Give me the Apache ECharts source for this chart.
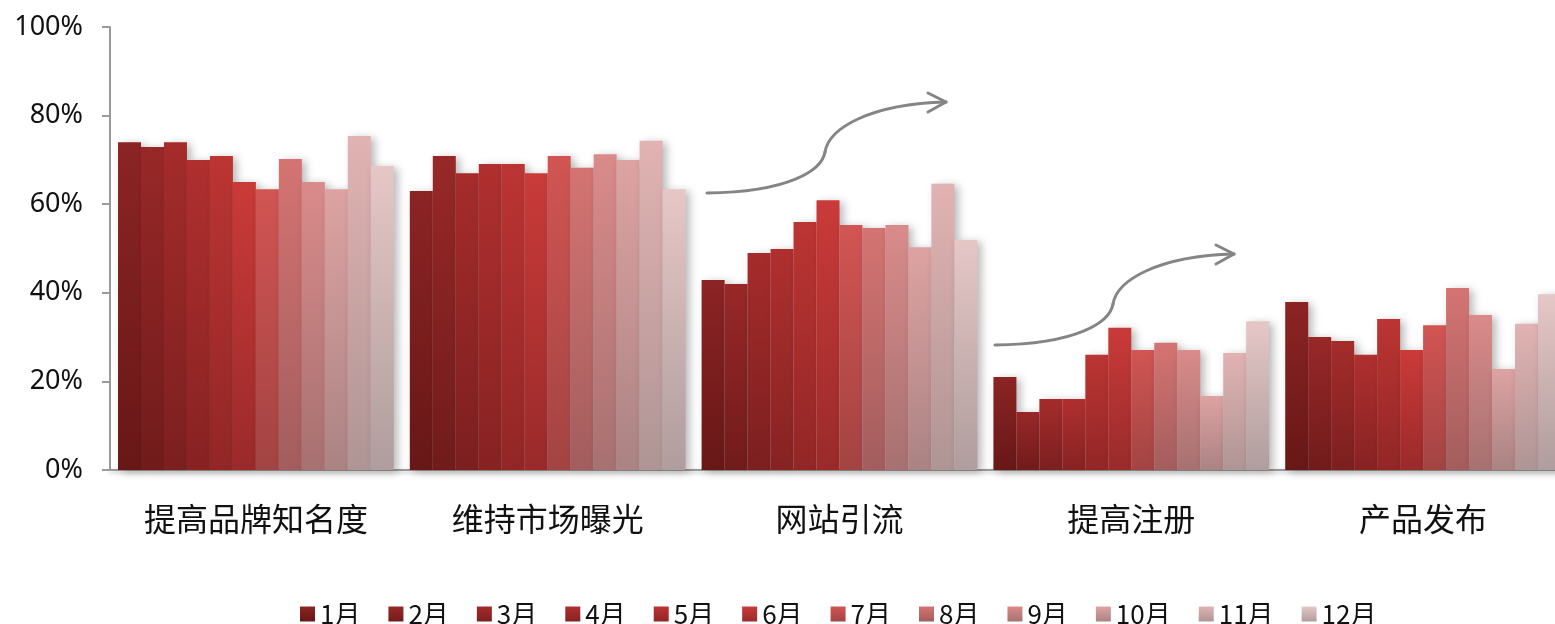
<!DOCTYPE html>
<html>
<head>
<meta charset="utf-8">
<script src="https://cdn.jsdelivr.net/npm/echarts@6/dist/echarts.min.js"></script>
<style>
html,body{margin:0;padding:0;background:#fff;}
#main{width:1555px;height:624px;}
</style>
</head>
<body>
<div id="main"></div>
<script>
const categories = ['提高品牌知名度', '维持市场曝光', '网站引流', '提高注册', '产品发布'];
const months = ['1月','2月','3月','4月','5月','6月','7月','8月','9月','10月','11月','12月'];
const m1  = [74.0, 63.0, 42.9, 21.0, 37.9];
const m2  = [72.9, 70.9, 42.0, 13.1, 30.0];
const m3  = [74.0, 67.0, 49.0, 16.0, 29.1];
const m4  = [70.0, 69.1, 49.9, 16.0, 26.0];
const m5  = [70.9, 69.1, 56.0, 26.0, 34.1];
const m6  = [65.0, 67.0, 60.9, 32.1, 27.1];
const m7  = [63.4, 70.9, 55.3, 27.1, 32.7];
const m8  = [70.2, 68.2, 54.6, 28.7, 41.1];
const m9  = [65.0, 71.3, 55.3, 27.1, 35.0];
const m10 = [63.4, 70.0, 50.3, 16.7, 22.8];
const m11 = [75.4, 74.3, 64.6, 26.4, 33.0];
const m12 = [68.6, 63.4, 51.9, 33.6, 39.7];
const yTicks = [0, 20, 40, 60, 80, 100];

const seriesValues = [m1,m2,m3,m4,m5,m6,m7,m8,m9,m10,m11,m12];
const topColors = ['#8c2424','#982828','#a52c2b','#b02f2f','#bb3533','#c93b39','#d15553','#d47472','#d98b8a','#dda3a2','#e1b3b2','#e5c7c6'];
const botColors = ['#681717','#711b1b','#7c1f1f','#872222','#922626','#9a2a2a','#a24443','#a35d5d','#a77171','#ab8383','#af9595','#b09d9d'];

const series = months.map((m, i) => ({
  name: m,
  type: 'bar',
  data: seriesValues[i],
  barGap: '0%',
  barCategoryGap: '5.5%',
  itemStyle: {
    color: {
      type: 'linear', x: 0, y: 0, x2: 0, y2: 1,
      colorStops: [
        {offset: 0, color: topColors[i]},
        {offset: 1, color: botColors[i]}
      ]
    },
    shadowBlur: 8,
    shadowOffsetX: 4,
    shadowOffsetY: 2,
    shadowColor: 'rgba(0,0,0,0.28)'
  },
  emphasis: {disabled: true}
}));

const chart = echarts.init(document.getElementById('main'), null, {renderer: 'canvas'});
const arrowStyle = {stroke: '#858585', lineWidth: 3, fill: null, lineCap: 'round', lineJoin: 'round'};
function bez(x1, y1, cpx1, cpy1, cpx2, cpy2, x2, y2) {
  return {type: 'bezierCurve', shape: {x1, y1, cpx1, cpy1, cpx2, cpy2, x2, y2}, style: arrowStyle, z: 100};
}
chart.setOption({
  animation: false,
  backgroundColor: '#ffffff',
  grid: {left: 110, top: 27, right: -14, bottom: 154, containLabel: false, outerBoundsMode: 'none'},
  legend: {
    data: months,
    left: 295,
    top: 596,
    itemWidth: 15,
    itemHeight: 15,
    itemGap: 28,
    icon: 'rect',
    textStyle: {fontSize: 26, color: '#111', fontFamily: '"Noto Sans CJK SC", "Noto Sans", sans-serif'}
  },
  xAxis: {
    type: 'category',
    data: categories,
    axisLine: {show: true, lineStyle: {color: '#9a9a9a', width: 2, shadowBlur: 4, shadowColor: 'rgba(0,0,0,0.25)', shadowOffsetY: 2}},
    axisTick: {show: false},
    axisLabel: {interval: 0, hideOverlap: false, fontSize: 32, color: '#111', margin: 33, fontFamily: '"Noto Sans CJK SC", sans-serif'}
  },
  yAxis: {
    type: 'value',
    min: yTicks[0],
    max: yTicks[yTicks.length - 1],
    interval: 20,
    axisLine: {show: true, lineStyle: {color: '#9a9a9a', width: 2}},
    axisTick: {show: true, length: 8, lineStyle: {color: '#9a9a9a', width: 2}},
    splitLine: {show: false},
    axisLabel: {formatter: '{value}%', fontSize: 27, color: '#111', margin: 27, fontFamily: '"Noto Sans", "Noto Sans CJK SC", sans-serif'}
  },
  graphic: [
    bez(707,193, 790,192, 822,170, 825,152),
    bez(825,152, 829,128, 870,104, 946,102),
    {type: 'polyline', shape: {points: [[928,93],[946,102],[928,112]]}, style: arrowStyle, z: 100},
    bez(995,345, 1078,344, 1110,322, 1113,304),
    bez(1113,304, 1117,280, 1158,256, 1234,254),
    {type: 'polyline', shape: {points: [[1216,245],[1234,254],[1216,264]]}, style: arrowStyle, z: 100}
  ],
  series: series
});
</script>
</body>
</html>
